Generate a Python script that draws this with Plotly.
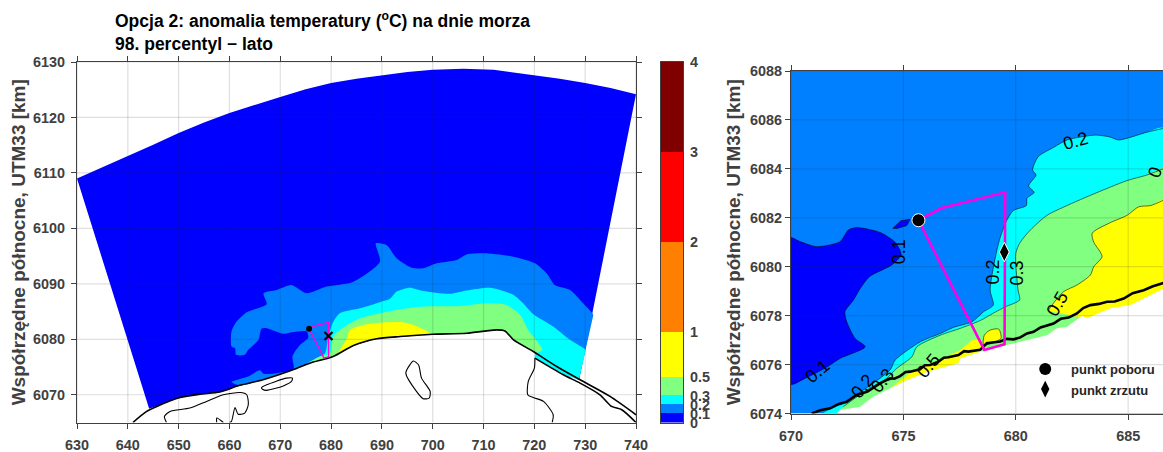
import plotly.graph_objects as go

# ---------- data: left overview map ----------
X_TICKS_L = [630, 640, 650, 660, 670, 680, 690, 700, 710, 720, 730, 740]
Y_TICKS_L = [6070, 6080, 6090, 6100, 6110, 6120, 6130]
X_TICKS_R = [670, 675, 680, 685]
Y_TICKS_R = [6074, 6076, 6078, 6080, 6082, 6084, 6086, 6088]
CB_LEVELS = [0, 0.1, 0.2, 0.3, 0.5, 1, 2, 3, 4]
CB_COLORS = ["#0000ff", "#0080ff", "#00ffff", "#80ff80", "#ffff00", "#ff8000", "#ff0000", "#800000"]

COAST = [(641, 6065), (643.7, 6067), (645.7, 6067.9), (650.3, 6069.5), (654.2, 6070.1), (658.1, 6070.5),
         (662, 6071.7), (666.6, 6072.7), (672.5, 6074.5), (675.8, 6075.7), (680.4, 6076.9), (684.4, 6078.9),
         (689, 6080.1), (693.6, 6080.5), (700, 6080.9), (706.7, 6081.1), (712.6, 6081.7), (714.2, 6081.5),
         (715.9, 6079.9), (719.8, 6077.8), (724.4, 6075.1), (729, 6072.7), (734.9, 6069.7), (740, 6066.4)]
SHORE_2 = [(720.1, 6076.6), (725.7, 6073.6), (729, 6072.1), (732.9, 6070), (735.2, 6067.9), (737.2, 6067.3), (740, 6065)]
LAGOON_W = [(647.6, 6065), (647.2, 6066.1), (648.3, 6067), (652.2, 6067.6), (655.5, 6068.8), (658.8, 6070), (662.1, 6070.4),
            (663.4, 6070), (663.7, 6068.2), (663, 6066.7), (661.7, 6066.5), (661.1, 6067.7), (660.4, 6065.2), (660, 6065)]
LAGOON_W2 = [(657.5, 6065), (657.5, 6065.8), (658.8, 6065)]
ISLAND = [(666.3, 6071.3), (667.3, 6071.8), (671.2, 6073), (672.4, 6073), (672.2, 6072.4), (670.6, 6071.6),
          (667.3, 6070.8), (666.5, 6071), (666.3, 6071.3)]
LAKE = [(696.2, 6076.1), (697.2, 6075.4), (697.8, 6073), (699.5, 6070.6), (699.3, 6069.4), (698.1, 6069.3),
        (696.8, 6070.6), (694.7, 6073.9), (695.5, 6075.4), (696.2, 6076.1)]
LAGOON_E = [(720.1, 6076.6), (720, 6074.8), (718.8, 6072.4), (718.7, 6070), (719.8, 6069.5), (721.8, 6068.8), (723.7, 6066.4), (723.5, 6065)]

ARC = [(630, 6109), (635, 6111), (640, 6113), (645, 6115.1), (650, 6117.2), (655, 6119.1), (660, 6120.8), (665, 6122.3), (670, 6123.7),
       (675, 6125.1), (680, 6126.2), (685, 6127), (690, 6127.6), (695, 6128.2),
       (700, 6128.6), (706, 6128.8), (712, 6128.6), (720, 6127.6), (725, 6127), (730, 6126.2), (735, 6125.3), (740, 6124.2), (728.8, 6072.7)]
L_AZURE = [(660.4, 6072.3), (663.7, 6073.3), (666, 6074.4), (666.7, 6073.8), (669.3, 6073.9), (672.6, 6074.7), (672.4, 6076.9),
           (673.9, 6079), (675.5, 6080.3), (675.2, 6081.4), (672.6, 6081.3), (670.6, 6081), (667.3, 6082), (666.3, 6081.9),
           (665.7, 6079.9), (663.7, 6078.1), (663, 6077.2), (661.3, 6077.2), (661.1, 6078.4), (660.4, 6078.7), (660.4, 6081.4),
           (661.4, 6083.2), (663.4, 6084.9), (667.3, 6086.3), (666.7, 6088.3), (669.3, 6088.9), (672.2, 6089.8), (675.2, 6088.3),
           (679.1, 6089.5), (684.4, 6090.4), (689.6, 6094), (688.8, 6097.3), (690.9, 6097), (692.9, 6094.6), (695.85, 6092.9),
           (698.1, 6092.8), (700.8, 6093.7), (704.7, 6094.3), (706.7, 6095.3), (710, 6095.5), (715.9, 6094.9), (720.1, 6093.7),
           (722.4, 6091.9), (724, 6089.8), (727, 6088.9), (729.6, 6086.5), (731.6, 6084.4), (731.55, 6084.15), (728.85, 6072.95), (728.8, 6072.7)]
L_CYAN = [(674.2, 6075.1), (677.1, 6076.6), (678.8, 6077.5), (679.4, 6080.2), (680.3, 6082.9), (681.7, 6084.7), (685.7, 6085.6),
          (689.6, 6086.7), (691.6, 6087.3), (692.9, 6088.6), (695.5, 6089.3), (698.1, 6088.7), (703.4, 6088.2), (706.7, 6088.8),
          (711.3, 6089.3), (715.9, 6088), (717.8, 6086.5), (719.8, 6084.5), (723.7, 6082.3), (727, 6079.9), (730.1, 6078.1),
          (730.05, 6077.85), (728.85, 6072.95), (728.8, 6072.7)]
L_CYAN_SPIT = [(720.1, 6077.6), (728.8, 6072.7), (725.7, 6073.6), (720.1, 6076.6)]
L_GREEN = [(674.9, 6075.4), (677.8, 6076.9), (679.8, 6077.5), (680.4, 6080.5), (682.7, 6082.3), (685.7, 6083.8), (689.6, 6084.7),
           (692.9, 6085.3), (698.1, 6085.9), (705.4, 6086), (710.6, 6086.5), (714.5, 6086.2), (717.2, 6084.4), (718.8, 6081.7),
           (721.6, 6078.1), (720.1, 6077.5)]
L_YELLOW = [(681.4, 6077.5), (683, 6079.9), (683.7, 6081.7), (686.3, 6082.6), (689.6, 6083), (693.6, 6083.1), (696.2, 6082.6), (699.8, 6080.9)]

INTAKE = (675.67, 6081.9)
OUTFALL = (679.49, 6080.6)
PIPE = [(675.67, 6081.9), (676.7, 6082.4), (679.53, 6083.04), (679.5, 6076.83), (678.6, 6076.6), (675.67, 6081.9)]

# ---------- data: right detail map ----------
R_BLUE = [(670, 6081.19), (670.4, 6081.03), (671.14, 6080.82), (672.18, 6081.02), (672.55, 6081.5), (672.93, 6081.6), (673.96, 6081.4),
          (674.63, 6081), (674.9, 6080.5), (674.48, 6080.07), (673.5, 6079.6), (673.07, 6079.1), (672.78, 6078.64), (672.4, 6078.16),
          (672.48, 6077.75), (672.85, 6077.07), (673.3, 6076.73), (672.18, 6076.25), (671.6, 6075.9), (670.77, 6075.5), (670, 6075.19)]
R_BLUE_ISLE = [(674.53, 6081.57), (674.89, 6081.88), (675.3, 6081.94), (675.15, 6081.68), (674.71, 6081.56)]
R_CYAN = [(686.6, 6085.66), (685.84, 6085.5), (684.58, 6085.18), (684.2, 6085.3), (683.54, 6085.38), (682.28, 6085.18), (681.69, 6084.88),
          (681, 6084.5), (680.75, 6083.95), (680.9, 6083.75), (680.57, 6083.3), (680.82, 6083.04), (680.5, 6082.8), (680.47, 6082.5),
          (679.9, 6082.3), (679.6, 6081.9), (679.31, 6081.2), (679.16, 6080.68), (678.86, 6079.05), (679, 6078.43), (678.57, 6078.16),
          (678.05, 6077.75), (677.23, 6077.52), (676.64, 6077.27), (675.75, 6076.93), (674.63, 6076.18), (674.41, 6075.78),
          (673.22, 6074.96), (672.18, 6074.35), (671.44, 6074), (686.6, 6074)]
R_GREEN = [(686.6, 6084.02), (685.84, 6083.75), (684.95, 6083.52), (684.06, 6083.2), (683.17, 6082.86), (682.28, 6082.5), (681.39, 6082.1),
           (680.65, 6081.5), (680.2, 6081), (680, 6080.55), (680.1, 6079.05), (680.17, 6078.64), (679.53, 6078.36), (679, 6078.1),
           (678.42, 6077.8), (677.53, 6077.48), (676.64, 6077.2), (675.6, 6076.73), (675.38, 6076.32), (674.7, 6075.84), (674.26, 6075.44),
           (673.37, 6074.96), (672.33, 6074.28), (672.03, 6074), (686.6, 6074)]
R_YELLOW = [(686.6, 6082.73), (686, 6082.5), (685.47, 6082.45), (684.95, 6082.1), (684.2, 6081.8), (683.4, 6081.37), (683.47, 6081),
            (683.76, 6080.6), (683.84, 6080.4), (683.47, 6080), (683.32, 6079.66), (682.72, 6079.25), (682.13, 6078.98), (681.61, 6078.43),
            (681.46, 6078.23), (682.43, 6078.02), (683.02, 6077.89), (683.17, 6077.8), (686.6, 6077.8)]
R_YELLOW_BLOB = [(678.57, 6076.8), (678.6, 6077.2), (678.86, 6077.41), (679.24, 6077.45), (679.34, 6077.07), (678.57, 6076.8)]
R_YELLOW_STRIP = [(678.05, 6077), (678.42, 6077.03), (678.6, 6076.8), (678.42, 6076.52), (677.53, 6076.25), (677.45, 6076.05),
                  (676.04, 6075.7), (675, 6075.3), (674.41, 6075.03), (675.45, 6075.78), (676.64, 6076.2), (677.53, 6076.6)]
R_LAND = [(686.6, 6079.11), (685.1, 6078.43), (684.21, 6078.3), (683.17, 6077.89), (682.95, 6078), (682.28, 6077.55), (681.83, 6077.48),
          (681.39, 6077.2), (679.6, 6076.8), (678.42, 6076.52), (677.53, 6076.25), (677.45, 6076.05), (676.04, 6075.7), (675, 6075.3),
          (674.41, 6075.03), (673.67, 6074.69), (673.07, 6074.28), (672.18, 6074.14), (672.06, 6074), (686.6, 6074)]
R_COAST = [(670.92, 6074), (671.3, 6074.13), (671.74, 6074.21), (672.1, 6074.38), (672.48, 6074.48), (672.9, 6074.75), (673.4, 6074.9),
           (673.96, 6075.23), (674.41, 6075.44), (674.6, 6075.42), (674.85, 6075.53), (675.1, 6075.7), (675.3, 6075.71), (675.74, 6075.81),
           (675.95, 6075.97), (676.19, 6075.98), (676.56, 6076.12), (676.8, 6076.28), (677, 6076.3), (677.45, 6076.39), (677.7, 6076.55),
           (677.89, 6076.53), (678.41, 6076.6), (678.71, 6076.87), (679.31, 6076.94), (679.6, 6077.05), (679.9, 6077.03), (680.2, 6077.11),
           (680.5, 6077.27), (680.79, 6077.34), (681.1, 6077.52), (681.39, 6077.61), (681.68, 6077.68), (682.0, 6077.87), (682.35, 6077.92),
           (682.72, 6078.09), (683.0, 6078.31), (683.32, 6078.43), (683.7, 6078.48), (684.06, 6078.57), (684.4, 6078.58), (684.8, 6078.7),
           (685.2, 6078.92), (685.69, 6079.04), (686.1, 6079.2), (686.6, 6079.34)]
R_BASE = [(670, 6074), (686.6, 6074), (686.6, 6088), (670, 6088)]

CONTOUR_LABELS = [("0.1", 671.2, 6075.73, -40), ("0.2", 673.2, 6075.12, -50), ("0.3", 674.05, 6075.33, -50),
                  ("0.5", 676.1, 6075.94, -50), ("0.5", 681.85, 6078.47, -60), ("0.2", 679, 6079.78, -90),
                  ("0.3", 680.07, 6079.74, -90), ("0.1", 674.81, 6080.6, -90), ("0.2", 682.65, 6085.14, -15),
                  ("0", 686.2, 6083.87, -70)]
LEGEND_ITEMS = [("punkt poboru", "circle", 681.31, 6075.82), ("punkt zrzutu", "diamond-tall", 681.31, 6075.0)]

# ---------- layout helpers ----------
W, H = 1163, 452
DARK = "#404040"
FONT = "Liberation Sans"
GRID = "rgba(38,38,38,0.15)"


def xs(p):
    return [a for a, _ in p]


def ys(p):
    return [b for _, b in p]


def coast_between(lo, hi):
    return [p for p in reversed(COAST) if lo <= p[0] <= hi]


def fill(poly, color, ax, smooth=False):
    closed = list(poly) + [poly[0]]
    ln = dict(width=0, color=color)
    if smooth:
        ln.update(shape="spline", smoothing=0.7)
    return go.Scatter(x=xs(closed), y=ys(closed), mode="lines", fill="toself", fillcolor=color,
                      line=ln, hoverinfo="skip", xaxis=ax[0], yaxis=ax[1])


def line(poly, color, width, ax, smooth=False):
    ln = dict(color=color, width=width)
    if smooth:
        ln.update(shape="spline", smoothing=0.7)
    return go.Scatter(x=xs(poly), y=ys(poly), mode="lines", line=ln,
                      hoverinfo="skip", xaxis=ax[0], yaxis=ax[1])


def grid(xt, yt, xr, yr, ax):
    gx, gy = [], []
    for t in xt:
        gx += [t, t, None]
        gy += [yr[0], yr[1], None]
    for t in yt:
        gx += [xr[0], xr[1], None]
        gy += [t, t, None]
    return go.Scatter(x=gx, y=gy, mode="lines", line=dict(color=GRID, width=1.2), hoverinfo="skip",
                      xaxis=ax[0], yaxis=ax[1])


L = ("x", "y")
R = ("x2", "y2")
XR_L, YR_L = [630, 740], [6065, 6130]
XR_R, YR_R = [670, 686.55], [6074, 6088]

fig = go.Figure()

# left panel
fig.add_trace(fill(ARC + coast_between(644.5, 728.9) + [(644.2, 6067.5)], CB_COLORS[0], L))
fig.add_trace(fill(L_AZURE + coast_between(660.4, 728.7), CB_COLORS[1], L, True))
fig.add_trace(fill(L_CYAN + coast_between(674.2, 728.7), CB_COLORS[2], L, True))
fig.add_trace(fill(L_CYAN_SPIT, CB_COLORS[2], L))
fig.add_trace(fill(L_GREEN + coast_between(674.9, 720.1), CB_COLORS[3], L, True))
fig.add_trace(fill(L_YELLOW + coast_between(681.4, 699.8), CB_COLORS[4], L, True))
fig.add_trace(grid(X_TICKS_L, Y_TICKS_L, XR_L, YR_L, L))
for part in (COAST, SHORE_2):
    fig.add_trace(line(part, "black", 1.6, L, True))
for part in (LAGOON_W, LAGOON_W2, ISLAND, LAKE, LAGOON_E):
    fig.add_trace(line(part, "black", 1.1, L, True))
fig.add_trace(line(PIPE, "#ff00e0", 1.4, L))
fig.add_trace(go.Scatter(x=[INTAKE[0]], y=[INTAKE[1]], mode="markers", marker=dict(symbol="circle", size=6, color="black"),
                         hoverinfo="skip", xaxis="x", yaxis="y"))
fig.add_trace(go.Scatter(x=[OUTFALL[0]], y=[OUTFALL[1]], mode="markers",
                         marker=dict(symbol="x-thin", size=8, color="black", line=dict(width=2.2, color="black")),
                         hoverinfo="skip", xaxis="x", yaxis="y"))

# right panel
fig.add_trace(fill(R_BASE, CB_COLORS[1], R))
fig.add_trace(fill(R_BLUE, CB_COLORS[0], R, True))
fig.add_trace(fill(R_BLUE_ISLE, CB_COLORS[0], R))
fig.add_trace(fill(R_CYAN, CB_COLORS[2], R, True))
fig.add_trace(fill(R_GREEN, CB_COLORS[3], R, True))
fig.add_trace(fill(R_YELLOW, CB_COLORS[4], R, True))
fig.add_trace(fill(R_YELLOW_STRIP, CB_COLORS[4], R))
fig.add_trace(fill(R_LAND, "white", R))
fig.add_trace(fill(R_YELLOW_BLOB, CB_COLORS[4], R, True))
for part, sm in ((R_BLUE, True), (R_BLUE_ISLE + R_BLUE_ISLE[:1], False), (R_CYAN[:-2], True), (R_GREEN[:-2], True),
                 (R_YELLOW[:-4], True), (R_YELLOW_BLOB, True)):
    fig.add_trace(line(part, "rgba(0,0,0,0.8)", 0.7, R, sm))
fig.add_trace(grid(X_TICKS_R, Y_TICKS_R, XR_R, YR_R, R))
fig.add_trace(line(R_COAST, "black", 2.6, R))
fig.add_trace(line(PIPE, "#ff00e0", 2.6, R))
fig.add_trace(go.Scatter(x=[INTAKE[0]], y=[INTAKE[1]], mode="markers",
                         marker=dict(symbol="circle", size=13, color="black", line=dict(width=1, color="white")),
                         hoverinfo="skip", xaxis="x2", yaxis="y2"))
fig.add_trace(go.Scatter(x=[OUTFALL[0]], y=[OUTFALL[1]], mode="markers",
                         marker=dict(symbol="diamond-tall", size=14, color="black", line=dict(width=1, color="white")),
                         hoverinfo="skip", xaxis="x2", yaxis="y2"))
for _, sym, lx, ly in LEGEND_ITEMS:
    fig.add_trace(go.Scatter(x=[lx], y=[ly], mode="markers", marker=dict(symbol=sym, size=12, color="black"),
                             hoverinfo="skip", xaxis="x2", yaxis="y2"))

# colour bar
fig.add_trace(go.Bar(x=[0.5] * len(CB_COLORS), y=[b - a for a, b in zip(CB_LEVELS[:-1], CB_LEVELS[1:])],
                     base=CB_LEVELS[:-1], width=1, marker=dict(color=CB_COLORS, line=dict(width=0)),
                     hoverinfo="skip", xaxis="x3", yaxis="y3"))

annotations = [
    dict(text="Opcja 2: anomalia temperatury (<sup>o</sup>C) na dnie morza", xref="paper", yref="paper",
         x=113 / W, y=1 - 20 / H, xanchor="left", yanchor="middle", showarrow=False,
         font=dict(family=FONT, size=17.5, color="black", weight="bold")),
    dict(text="98. percentyl − lato", xref="paper", yref="paper", x=113 / W, y=1 - 44 / H, xanchor="left",
         yanchor="middle", showarrow=False, font=dict(family=FONT, size=17.5, color="black", weight="bold")),
]
for txt, ax_, ay_, rot in CONTOUR_LABELS:
    annotations.append(dict(text=txt, x=ax_, y=ay_, xref="x2", yref="y2", textangle=rot, showarrow=False,
                            font=dict(family=FONT, size=18, color="black")))
for txt, _, lx, ly in LEGEND_ITEMS:
    annotations.append(dict(text=txt, x=lx + 1.06, y=ly, xref="x2", yref="y2", xanchor="left", yanchor="middle",
                            yshift=-1, showarrow=False, font=dict(family=FONT, size=13, color="#262626", weight="bold")))


def axis(domain, rng, tick_values, **kw):
    d = dict(domain=domain, range=rng, tickvals=tick_values, ticktext=[str(t) for t in tick_values], ticks="outside", ticklen=5, tickwidth=1,
             tickcolor=DARK, showgrid=False, zeroline=False, showline=True, linecolor=DARK, linewidth=1.3, automargin=False,
             tickfont=dict(family=FONT, size=14.4, color=DARK, weight="bold"))
    d.update(kw)
    return d


def ytitle(standoff):
    return dict(text="Współrzędne północne, UTM33 [km]", font=dict(family=FONT, size=19, color=DARK, weight="bold"), standoff=standoff)


fig.update_layout(
    width=W, height=H, margin=dict(l=0, r=0, t=0, b=0), paper_bgcolor="white", plot_bgcolor="white",
    showlegend=False, annotations=annotations, bargap=0,
    xaxis=axis([77 / W, 636 / W], XR_L, X_TICKS_L, mirror="ticks", anchor="y", ticklabelstandoff=4),
    yaxis=axis([1 - 422.5 / H, 1 - 62 / H], YR_L, Y_TICKS_L, mirror="ticks", anchor="x", title=ytitle(2), ticklabelstandoff=3),
    xaxis2=axis([791 / W, 1.0], XR_R, X_TICKS_R, mirror="ticks", anchor="y2", ticklabelstandoff=4),
    yaxis2=axis([1 - 413.5 / H, 1 - 71 / H], YR_R, Y_TICKS_R, anchor="x2", title=ytitle(4)),
    xaxis3=dict(domain=[661 / W, 683 / W], range=[0, 1], anchor="y3", showticklabels=False, ticks="", showgrid=False,
                zeroline=False, showline=True, linecolor=DARK, linewidth=1, mirror=True, automargin=False),
    yaxis3=axis([1 - 422.5 / H, 1 - 62 / H], [0, 4], CB_LEVELS, side="right", anchor="x3", mirror=True, ticks="", linewidth=1, ticklabelstandoff=3),
)

fig.write_html("out.html", config=dict(displayModeBar=False), post_script="document.body.style.margin='0';")
